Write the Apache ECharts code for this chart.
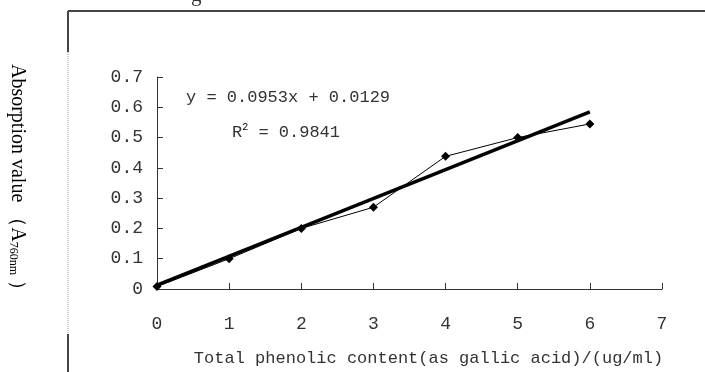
<!DOCTYPE html>
<html>
<head>
<meta charset="utf-8">
<script src="https://cdn.jsdelivr.net/npm/echarts@6/dist/echarts.min.js"></script>
<style>html,body{margin:0;padding:0;background:#fff}#c{width:705px;height:372px}</style>
</head>
<body>
<div id="c"></div>
<script>
// data
var xValues = [0, 1, 2, 3, 4, 5, 6];
var absorbance = [0.008, 0.100, 0.200, 0.270, 0.438, 0.500, 0.545];
var trendX = [0, 6];
var trendY = [0.0129, 0.5847];
var equationText = 'y = 0.0953x + 0.0129';
var r2Value = '0.9841';
var xAxisTitle = 'Total phenolic content(as gallic acid)/(ug/ml)';

var mono = '"Liberation Mono", monospace';
var serif = '"Liberation Serif", "Times New Roman", serif';
var chart = echarts.init(document.getElementById('c'), null, {renderer: 'canvas'});
chart.setOption({
  animation: false,
  backgroundColor: '#fff',
  grid: {left: 157, right: 43, top: 77, bottom: 82},
  xAxis: {
    type: 'value', min: 0, max: 7, interval: 1,
    axisLine: {lineStyle: {color: '#333', width: 1}},
    axisTick: {inside: true, length: 6, lineStyle: {color: '#333'}},
    splitLine: {show: false},
    axisLabel: {color: '#333', fontFamily: mono, fontSize: 18, margin: 26},
    name: xAxisTitle, nameLocation: 'middle', nameGap: 61,
    nameTextStyle: {color: '#333', fontFamily: mono, fontSize: 17, padding: [0, 0, 0, 38]}
  },
  yAxis: {
    type: 'value', min: 0, max: 0.7, interval: 0.1,
    axisLine: {show: true, lineStyle: {color: '#333', width: 1}},
    axisTick: {show: true, inside: true, length: 6, lineStyle: {color: '#333'}},
    splitLine: {show: false},
    axisLabel: {color: '#333', fontFamily: mono, fontSize: 18, margin: 14}
  },
  series: [
    {
      type: 'line', data: xValues.map(function (x, i) { return [x, absorbance[i]]; }),
      symbol: 'diamond', symbolSize: 9, showSymbol: true,
      lineStyle: {color: '#000', width: 1}, itemStyle: {color: '#000'}, z: 3
    },
    {
      type: 'line', data: trendX.map(function (x, i) { return [x, trendY[i]]; }),
      symbol: 'none', lineStyle: {color: '#000', width: 3.5}, z: 2
    }
  ],
  graphic: [
    {type: 'line', shape: {x1: 68, y1: 11, x2: 705, y2: 11}, style: {stroke: '#444', lineWidth: 2}},
    {type: 'line', shape: {x1: 68, y1: 11, x2: 68, y2: 52}, style: {stroke: '#444', lineWidth: 2}},
    {type: 'line', shape: {x1: 68, y1: 52, x2: 68, y2: 334}, style: {stroke: '#bbb', lineWidth: 1.5, lineDash: [1, 1]}},
    {type: 'line', shape: {x1: 68, y1: 334, x2: 68, y2: 372}, style: {stroke: '#444', lineWidth: 2}},
    {type: 'text', left: 191, top: -15, style: {text: 'g', font: '21px ' + serif, fill: '#333'}},
    {type: 'text', x: 186, y: 97, style: {text: equationText, font: '17px ' + mono, fill: '#333', verticalAlign: 'middle'}},
    {type: 'text', x: 232, y: 132, style: {
      text: '{r|R}{s|2}{r| = ' + r2Value + '}',
      verticalAlign: 'middle',
      rich: {r: {fontFamily: mono, fontSize: 17, fill: '#333', color: '#333'},
             s: {fontFamily: mono, fontSize: 10, color: '#333', verticalAlign: 'top', padding: [0, 0, 10, 0]}}
    }},
    {type: 'text', x: 17, y: 182, rotation: -Math.PI / 2, style: {
      text: '{a|Absorption value （A}{b|760nm}{a| ）}',
      align: 'center', verticalAlign: 'middle',
      rich: {a: {fontFamily: serif, fontSize: 20, color: '#333'},
             b: {fontFamily: serif, fontSize: 12, color: '#333', padding: [8, 0, 0, 0]}}
    }}
  ]
});
</script>
</body>
</html>
